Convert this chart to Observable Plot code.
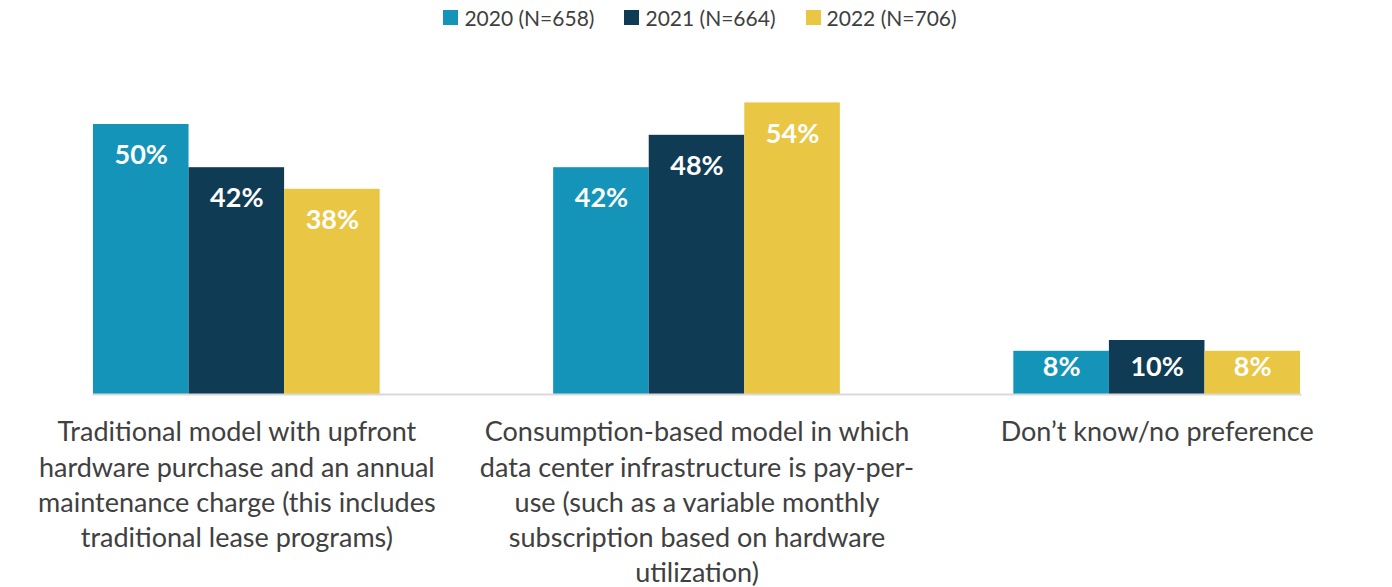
<!DOCTYPE html>
<html>
<head>
<meta charset="utf-8">
<script src="https://cdn.jsdelivr.net/npm/d3@7"></script>
<script src="https://cdn.jsdelivr.net/npm/@observablehq/plot@0.6"></script>
<style>
  html, body { margin: 0; padding: 0; background: #fff; }
  body { width: 1392px; font-family: Lato, "Noto Sans", sans-serif; }
  #legend { height: 40px; display: flex; justify-content: center; align-items: center; gap: 30px; padding-left: 8px; box-sizing: border-box; font-size: 21px; color: #404040; }
  .item { display: flex; align-items: center; gap: 6px; position: relative; top: -3px; }
  .sw { width: 15px; height: 15px; display: inline-block; }
  #chart svg { display: block; }
</style>
</head>
<body>
<div id="legend"></div>
<div id="chart"></div>
<script>
const categories = [
  "Traditional model with upfront\nhardware purchase and an annual\nmaintenance charge (this includes\ntraditional lease programs)",
  "Consumption-based model in which\ndata center infrastructure is pay-per-\nuse (such as a variable monthly\nsubscription based on hardware\nutilization)",
  "Don’t know/no preference"
];
const years = ["2020", "2021", "2022"];
const legendLabels = ["2020 (N=658)", "2021 (N=664)", "2022 (N=706)"];
const colors = ["#1594ba", "#0f3c54", "#e9c744"];
const values2020 = [50, 42, 8];
const values2021 = [42, 48, 10];
const values2022 = [38, 54, 8];

const series = [values2020, values2021, values2022];
const data = [];
categories.forEach((c, i) => {
  years.forEach((y, j) => data.push({category: c, year: y, value: series[j][i]}));
});

const legend = document.getElementById("legend");
years.forEach((y, j) => {
  const it = document.createElement("div");
  it.className = "item";
  it.innerHTML = `<span class="sw" style="background:${colors[j]}"></span><span>${legendLabels[j]}</span>`;
  legend.appendChild(it);
});

const big = data.filter(d => d.value > 15);
const small = data.filter(d => d.value <= 15);

const chart = Plot.plot({
  width: 1392,
  height: 547,
  marginTop: 30,
  marginBottom: 193,
  marginLeft: 6,
  marginRight: 5,
  style: {fontFamily: "Lato, 'Noto Sans', sans-serif", background: "#fff"},
  fx: {domain: categories, paddingInner: 0.377, paddingOuter: 0.189, round: false, label: null},
  x: {domain: years, padding: 0, round: false, axis: null},
  y: {domain: [0, 60], axis: null},
  color: {domain: years, range: colors},
  marks: [
    Plot.barY(data, {fx: "category", x: "year", y: "value", fill: "year"}),
    Plot.frame({anchor: "bottom", facet: "super", stroke: "#d9d9d9", strokeWidth: 2}),
    Plot.text(big, {fx: "category", x: "year", y: "value", text: d => d.value + "%", dy: 31, fill: "white", fontWeight: "bold", fontSize: 27}),
    Plot.text(small, {fx: "category", x: "year", y: () => 5, text: d => d.value + "%", fill: "white", fontWeight: "bold", fontSize: 27}),
    Plot.axisFx({anchor: "bottom", tickSize: 0, tickPadding: 22, fontSize: 27, lineHeight: 1.3, fill: "#404040", label: null, lineWidth: 100})
  ]
});
document.getElementById("chart").appendChild(chart);
</script>
</body>
</html>
